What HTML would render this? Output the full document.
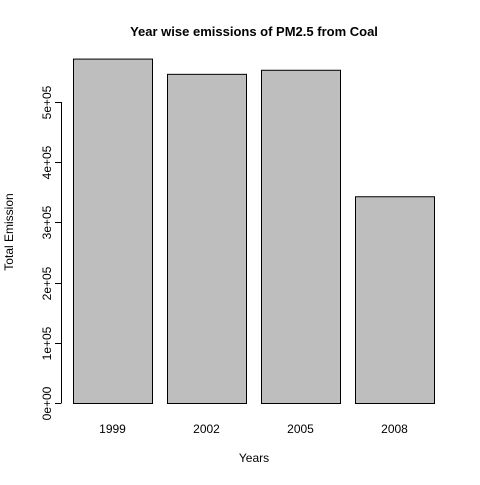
<!DOCTYPE html>
<html><head><meta charset="utf-8"><style>
body{margin:0;background:#fff}
svg text{font-family:"Liberation Sans",Arial,sans-serif;fill:#000}
</style></head><body>
<svg id="chart" width="480" height="480">
<text x="254" y="36" font-size="13" font-weight="bold" text-anchor="middle">Year wise emissions of PM2.5 from Coal</text>
<text x="254" y="462" font-size="12" text-anchor="middle">Years</text>
<text transform="translate(13,232) rotate(-90)" font-size="12" text-anchor="middle">Total Emission</text>
<g id="bars"></g><g id="yaxis"></g><g id="xlabels"></g>
</svg>
<script>
const categories=["1999","2002","2005","2008"];
const values=[572126,546789,553550,343432];
const yTicks=[0,100000,200000,300000,400000,500000];
const yTickLabels=["0e+00","1e+05","2e+05","3e+05","4e+05","5e+05"];
const ns="http://www.w3.org/2000/svg";
const y0=403,pxPer=60.2/100000;
const y=v=>y0-v*pxPer;
const x=i=>73+i*94;
const bw=79;
const bars=document.getElementById('bars');
values.forEach((v,i)=>{
 const r=document.createElementNS(ns,'rect');
 r.setAttribute('x',x(i)+0.5);r.setAttribute('y',y(v)+0.5);
 r.setAttribute('width',bw);r.setAttribute('height',y0-y(v));
 r.setAttribute('fill','#bebebe');r.setAttribute('stroke','#000');
 
 
 bars.appendChild(r);
 const t=document.createElementNS(ns,'text');
 t.setAttribute('x',x(i)+bw/2);t.setAttribute('y',433);
 t.setAttribute('font-size','12');t.setAttribute('text-anchor','middle');
 t.textContent=categories[i];
 
 
 document.getElementById('xlabels').appendChild(t);
});
const ya=document.getElementById('yaxis');
const ax=document.createElementNS(ns,'line');
ax.setAttribute('x1',61.5);ax.setAttribute('x2',61.5);
ax.setAttribute('y1',y(yTicks[0]));ax.setAttribute('y2',y(yTicks[yTicks.length-1]));
ax.setAttribute('stroke','#000');


ya.appendChild(ax);
yTicks.forEach((v,i)=>{
 const yy=Math.round(y(v))+0.5;
 const l=document.createElementNS(ns,'line');
 l.setAttribute('x1',55);l.setAttribute('x2',61.5);l.setAttribute('y1',yy);l.setAttribute('y2',yy);
 l.setAttribute('stroke','#000');
 
 
 ya.appendChild(l);
 const t=document.createElementNS(ns,'text');
 t.setAttribute('transform','translate(51,'+yy+') rotate(-90)');
 t.setAttribute('font-size','12');t.setAttribute('text-anchor','middle');
 t.textContent=yTickLabels[i];
 
 
 ya.appendChild(t);
});
</script>
</body></html>
